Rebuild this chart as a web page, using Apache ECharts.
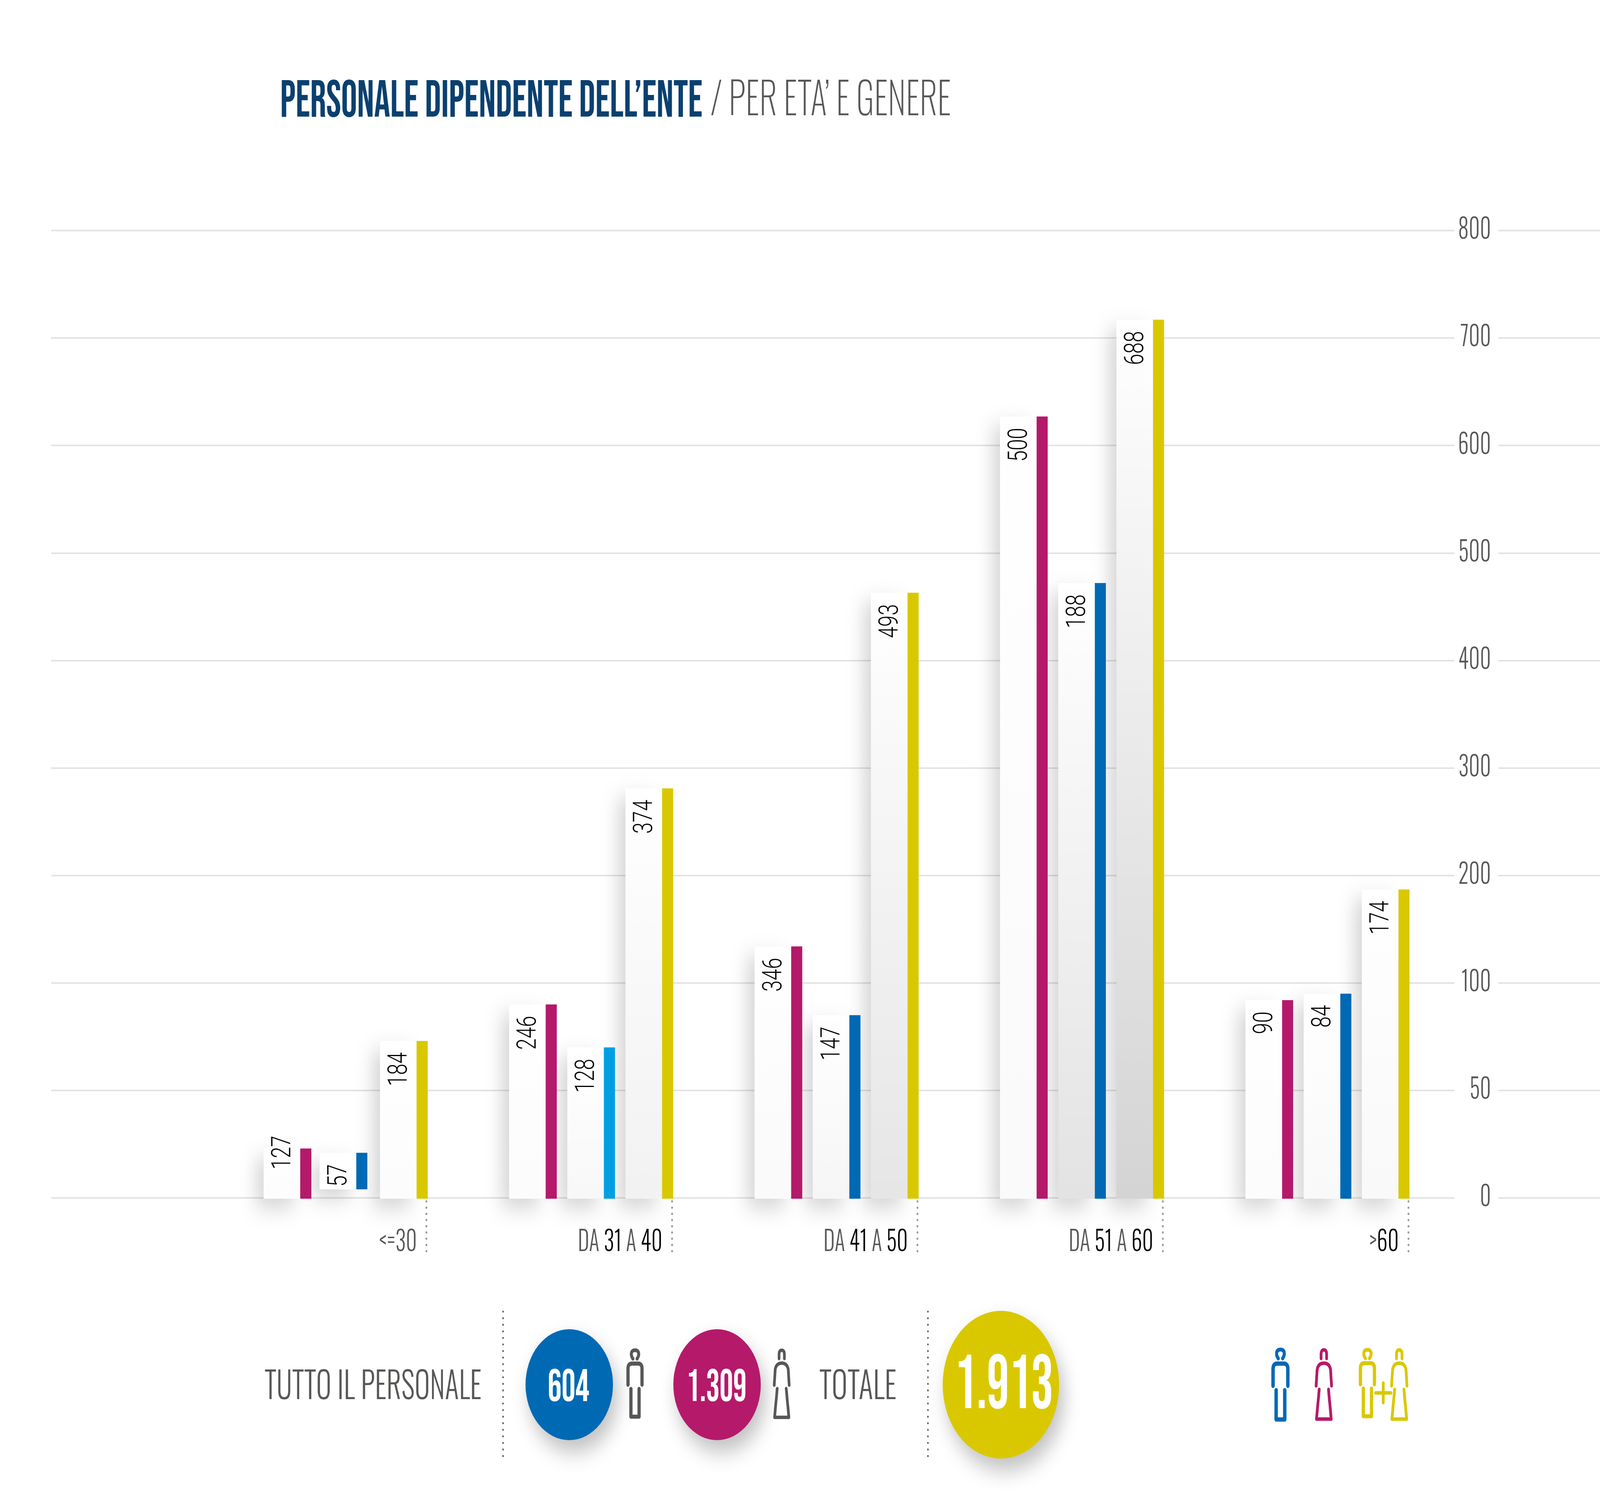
<!DOCTYPE html>
<html>
<head>
<meta charset="utf-8">
<title>Personale dipendente dell'ente</title>
<script src="https://cdn.jsdelivr.net/npm/echarts@6/dist/echarts.min.js"></script>
<style>
  html, body { margin: 0; padding: 0; background: #fff; overflow: hidden; }
  #chart { width: 5197px; height: 3811px; transform-origin: 0 0; }
</style>
</head>
<body>
<div id="chart"></div>
<script>
// categorie e tick dell'asse (l'asse originale non e' lineare: 0, 50, 100, 200...)
const categories = ["<=30", "DA 31 A 40", "DA 41 A 50", "DA 51 A 60", ">60"];
const yTicks = [0, 50, 100, 200, 300, 400, 500, 600, 700, 800];

const femaleBars = [23, 90, 134, 627, 92];
const maleBars = [21, 70, 85, 472, 95];
const totalBars = [73, 281, 463, 717, 187];
const maleBase = [4, 0, 0, 0, 0];

// numeri scritti dentro le barre
const femaleLabels = ["127", "246", "346", "500", "90"];
const maleLabels = ["57", "128", "147", "188", "84"];
const totalLabels = ["184", "374", "493", "688", "174"];

// riepilogo in basso
const summaryMale = "604";
const summaryFemale = "1.309";
const summaryTotal = "1.913";

// colori
const GREY = "#575756";
const MAGENTA = "#b5196a";
const BLUE = "#0069b4";
const CYAN = "#009fe3";
const YELLOW = "#d9c800";
const femaleShade = ["#fdfdfd", "#fcfcfc", "#fafafa", "#fafafa", "#fcfcfc"];
const maleShade = ["#ffffff", "#f8f8f8", "#f6f6f6", "#e3e3e3", "#f9f9f9"];
const totalShade = ["#fcfcfc", "#f2f2f2", "#e6e6e6", "#d4d4d4", "#f9f9f9"];
const maleStrips = [BLUE, CYAN, BLUE, BLUE, BLUE];

const NARROW = "'Bebas Neue', 'Oswald', 'Roboto Condensed', sans-serif";
const LIGHT = "'Oswald', 'Roboto Condensed', sans-serif";

// il disegno e' pensato a 5197 di larghezza: se la finestra e' piu' stretta si adatta
document.getElementById("chart").style.transform = "scaleX(" + window.innerWidth / 5197 + ")";

// valore letto -> posizione sull'asse a tacche equidistanti
function tickPos(v) {
  for (let i = 1; i < yTicks.length; i++) {
    if (v <= yTicks[i]) {
      return i - 1 + (v - yTicks[i - 1]) / (yTicks[i] - yTicks[i - 1]);
    }
  }
  return yTicks.length - 1;
}

// scala orizzontale per far entrare un testo nella larghezza voluta
const measure = document.createElement("canvas").getContext("2d");
function fitX(text, font, width) {
  measure.font = font;
  return width / measure.measureText(text).width;
}

function barSeries(name, start, bars, bases, labels, shades, strips) {
  return {
    name: name,
    type: "custom",
    xAxisIndex: 2,
    yAxisIndex: 2,
    clip: false,
    encode: { x: 0, y: 1 },
    data: bars.map((v, i) => [i, tickPos(v), tickPos(bases ? bases[i] : 0), labels[i]]),
    renderItem: function (params, api) {
      const i = api.value(0);
      const top = api.coord([i, api.value(1)]);
      const base = api.value(2);
      const bottom = api.coord([i, base])[1] + (base > 0 ? 0 : 2);
      // la barra sospesa del primo gruppo e' leggermente spostata
      const x = top[0] + start - (base > 0 ? 7 : 0);
      const h = bottom - top[1];
      const label = labels[i];
      // il 127 esce sopra la barra
      const labelY = top[1] + (label === "127" ? -33 : 29);
      return {
        type: "group",
        children: [
          {
            type: "rect",
            z2: 1,
            shape: { x: x, y: top[1], width: 119, height: h },
            style: {
              fill: new echarts.graphic.LinearGradient(0, 0, 0, 1, [
                { offset: 0, color: "#ffffff" },
                { offset: 1, color: shades[i] },
              ]),
              shadowColor: "rgba(0,0,0,0.17)",
              shadowBlur: 55,
              shadowOffsetX: -22,
              shadowOffsetY: 24,
            },
          },
          {
            type: "rect",
            z2: 10,
            shape: { x: x + 119, y: top[1], width: 36, height: h },
            style: { fill: strips[i] },
          },
          {
            type: "text",
            z2: 11,
            x: x + 65,
            y: labelY,
            rotation: Math.PI / 2,
            scaleX: 0.6,
            style: {
              text: label,
              font: "300 87px Roboto",
              fill: "#000",
              align: "right",
              verticalAlign: "middle",
            },
          },
        ],
      };
    },
  };
}

// omini: tracciati in coordinate locali, una voce per icona
const manPaths = [
  { d: "M22 27 C12 15 16 4 29 4 C42 4 46 15 36 27", w: 10 },
  { d: "M5 97 L5 54 Q5 40 18 40 L40 40 Q53 40 53 54 L53 97", w: 11 },
  { d: "M15 108 L15 183 L43 183 L43 108", w: 11 },
];
const womanPaths = [
  { d: "M21 26 L21 15 Q21 4 30 4 Q39 4 39 15 L39 26", w: 9 },
  { d: "M5 96 L8 56 Q11 38 30 38 Q49 38 52 56 L55 96", w: 9 },
  { d: "M15 105 L6 181 L54 181 L45 105", w: 9 },
];
const plusPaths = [{ d: "M3 28 L53 28 M28 3 L28 53", w: 9 }];
const icons = [
  { x: 2035, y: 3452, paths: manPaths, color: GREY, scale: 0.95 },
  { x: 2510, y: 3452, paths: womanPaths, color: GREY, scale: 0.97 },
  { x: 4130, y: 3450, paths: manPaths, color: BLUE, scale: 1 },
  { x: 4270, y: 3451, paths: womanPaths, color: MAGENTA, scale: 1 },
  { x: 4414, y: 3451, paths: manPaths, color: YELLOW, scale: 0.95 },
  { x: 4515, y: 3451, paths: womanPaths, color: YELLOW, scale: 1 },
  { x: 4465, y: 3537, paths: plusPaths, color: YELLOW, scale: 1 },
];

function textEl(text, x, y, font, width, fill, align) {
  return {
    type: "text",
    x: x,
    y: y,
    scaleX: fitX(text, font, width),
    style: { text: text, font: font, fill: fill, align: align || "left", verticalAlign: "middle" },
  };
}

function circleEl(cx, cy, r, color) {
  return {
    type: "circle",
    shape: { cx: cx, cy: cy, r: r },
    style: {
      fill: color,
      shadowColor: "rgba(0,0,0,0.25)",
      shadowBlur: 55,
      shadowOffsetX: 14,
      shadowOffsetY: 30,
    },
  };
}

function dottedEl(x, y1, y2) {
  return {
    type: "line",
    shape: { x1: x, y1: y1, x2: x, y2: y2 },
    style: { stroke: GREY, lineWidth: 5, lineCap: "round", lineDash: [0.1, 16.7] },
  };
}

const myChart = echarts.init(document.getElementById("chart"), null, { renderer: "canvas" });

const gridSplit = { show: true, lineStyle: { color: "#e3e3e2", width: 4 } };
const hiddenX = { type: "value", show: false };

myChart.setOption({
  backgroundColor: "#fff",
  animation: false,
  tooltip: { show: false },
  grid: [
    // linee a sinistra dei numeri
    { left: 166, top: 590, width: 4558, height: 2476 },
    // linee a destra dei numeri
    { left: 4867, top: 590, width: 330, height: 2476 },
    // barre
    { left: 724, top: 590, width: 3986.5, height: 2476 },
    // etichette e puntini sotto i gruppi
    { left: 986.5, top: 590, width: 3986.5, height: 2485 },
  ],
  xAxis: [
    Object.assign({ gridIndex: 0 }, hiddenX),
    Object.assign({ gridIndex: 1 }, hiddenX),
    { gridIndex: 2, type: "category", data: categories, show: false },
    {
      gridIndex: 3,
      type: "category",
      data: categories,
      axisLine: { show: false },
      axisTick: {
        show: true,
        alignWithLabel: true,
        length: 135,
        lineStyle: { color: "#9d9d9c", width: 6, type: [0.1, 15.8], cap: "round" },
      },
      axisLabel: {
        interval: 0,
        align: "right",
        verticalAlign: "top",
        margin: 71,
        padding: [0, 31, 0, 0],
        fontFamily: LIGHT,
        fontSize: 70,
        fontWeight: 300,
        formatter: function (value) {
          if (value === "<=30") return "{g|" + value + "}";
          return value
            .split(/(\d+)/)
            .filter((s) => s !== "")
            .map((s) => (/\d/.test(s) ? "{k|" + s + "}" : "{g|" + s + "}"))
            .join("");
        },
        rich: {
          g: { color: GREY, fontFamily: LIGHT, fontSize: 70, fontWeight: 300 },
          k: { color: "#000", fontFamily: LIGHT, fontSize: 70, fontWeight: 300 },
        },
      },
    },
  ],
  yAxis: [
    {
      gridIndex: 0,
      type: "value",
      min: 0,
      max: 9,
      interval: 1,
      axisLine: { show: false },
      axisTick: { show: false },
      axisLabel: { show: false },
      splitLine: gridSplit,
    },
    {
      gridIndex: 1,
      type: "value",
      min: 0,
      max: 9,
      interval: 1,
      axisLine: { show: false },
      axisTick: { show: false },
      splitLine: gridSplit,
      axisLabel: {
        margin: 24,
        color: GREY,
        fontFamily: LIGHT,
        fontSize: 70,
        fontWeight: 300,
        verticalAlign: "middle",
        padding: [18, 0, 0, 0],
        formatter: (v) => String(yTicks[v]),
      },
    },
    { gridIndex: 2, type: "value", min: 0, max: 9, interval: 1, show: false },
    { gridIndex: 3, type: "value", min: 0, max: 9, interval: 1, show: false },
  ],
  series: [
    barSeries("Donne", -266.5, femaleBars, null, femaleLabels, femaleShade, femaleBars.map(() => MAGENTA)),
    barSeries("Uomini", -77.5, maleBars, maleBase, maleLabels, maleShade, maleStrips),
    barSeries("Totale", 111.5, totalBars, null, totalLabels, totalShade, totalBars.map(() => YELLOW)),
    {
      name: "Icone",
      type: "custom",
      coordinateSystem: "none",
      silent: true,
      data: icons.map((d, i) => [i]),
      renderItem: function (params, api) {
        const icon = icons[api.value(0)];
        return {
          type: "group",
          x: icon.x,
          y: icon.y,
          scaleX: icon.scale,
          scaleY: icon.scale,
          children: icon.paths.map((p) => ({
            type: "path",
            shape: { pathData: p.d },
            style: { fill: "none", stroke: icon.color, lineWidth: p.w, lineCap: "round", lineJoin: "round" },
          })),
        };
      },
    },
  ],
  graphic: {
    elements: [
      textEl("PERSONALE DIPENDENTE DELL\u2019ENTE", 910, 266, "133px " + NARROW, 1372, "#0a406f"),
      textEl("/ PER ETA\u2019 E GENERE", 2308, 261, "200 113px " + LIGHT, 781, GREY),
      textEl("TUTTO IL PERSONALE", 859, 3553, "300 93px " + LIGHT, 705, GREY),
      textEl("TOTALE", 2661, 3553, "300 93px " + LIGHT, 251, GREY),
      dottedEl(1634, 3357, 3732),
      dottedEl(3014, 3357, 3732),
      circleEl(1849, 3544, 142, BLUE),
      circleEl(2329, 3544, 142, MAGENTA),
      circleEl(3251, 3544, 189, YELLOW),
      textEl(summaryMale, 1779, 3557, "117px " + NARROW, 135, "#fff"),
      textEl(summaryFemale, 2229, 3557, "117px " + NARROW, 196, "#fff"),
      textEl(summaryTotal, 3100, 3555, "196px " + NARROW, 321, "#fff"),
    ],
  },
});

window.addEventListener("resize", function () {
  myChart.resize();
});
</script>
</body>
</html>
